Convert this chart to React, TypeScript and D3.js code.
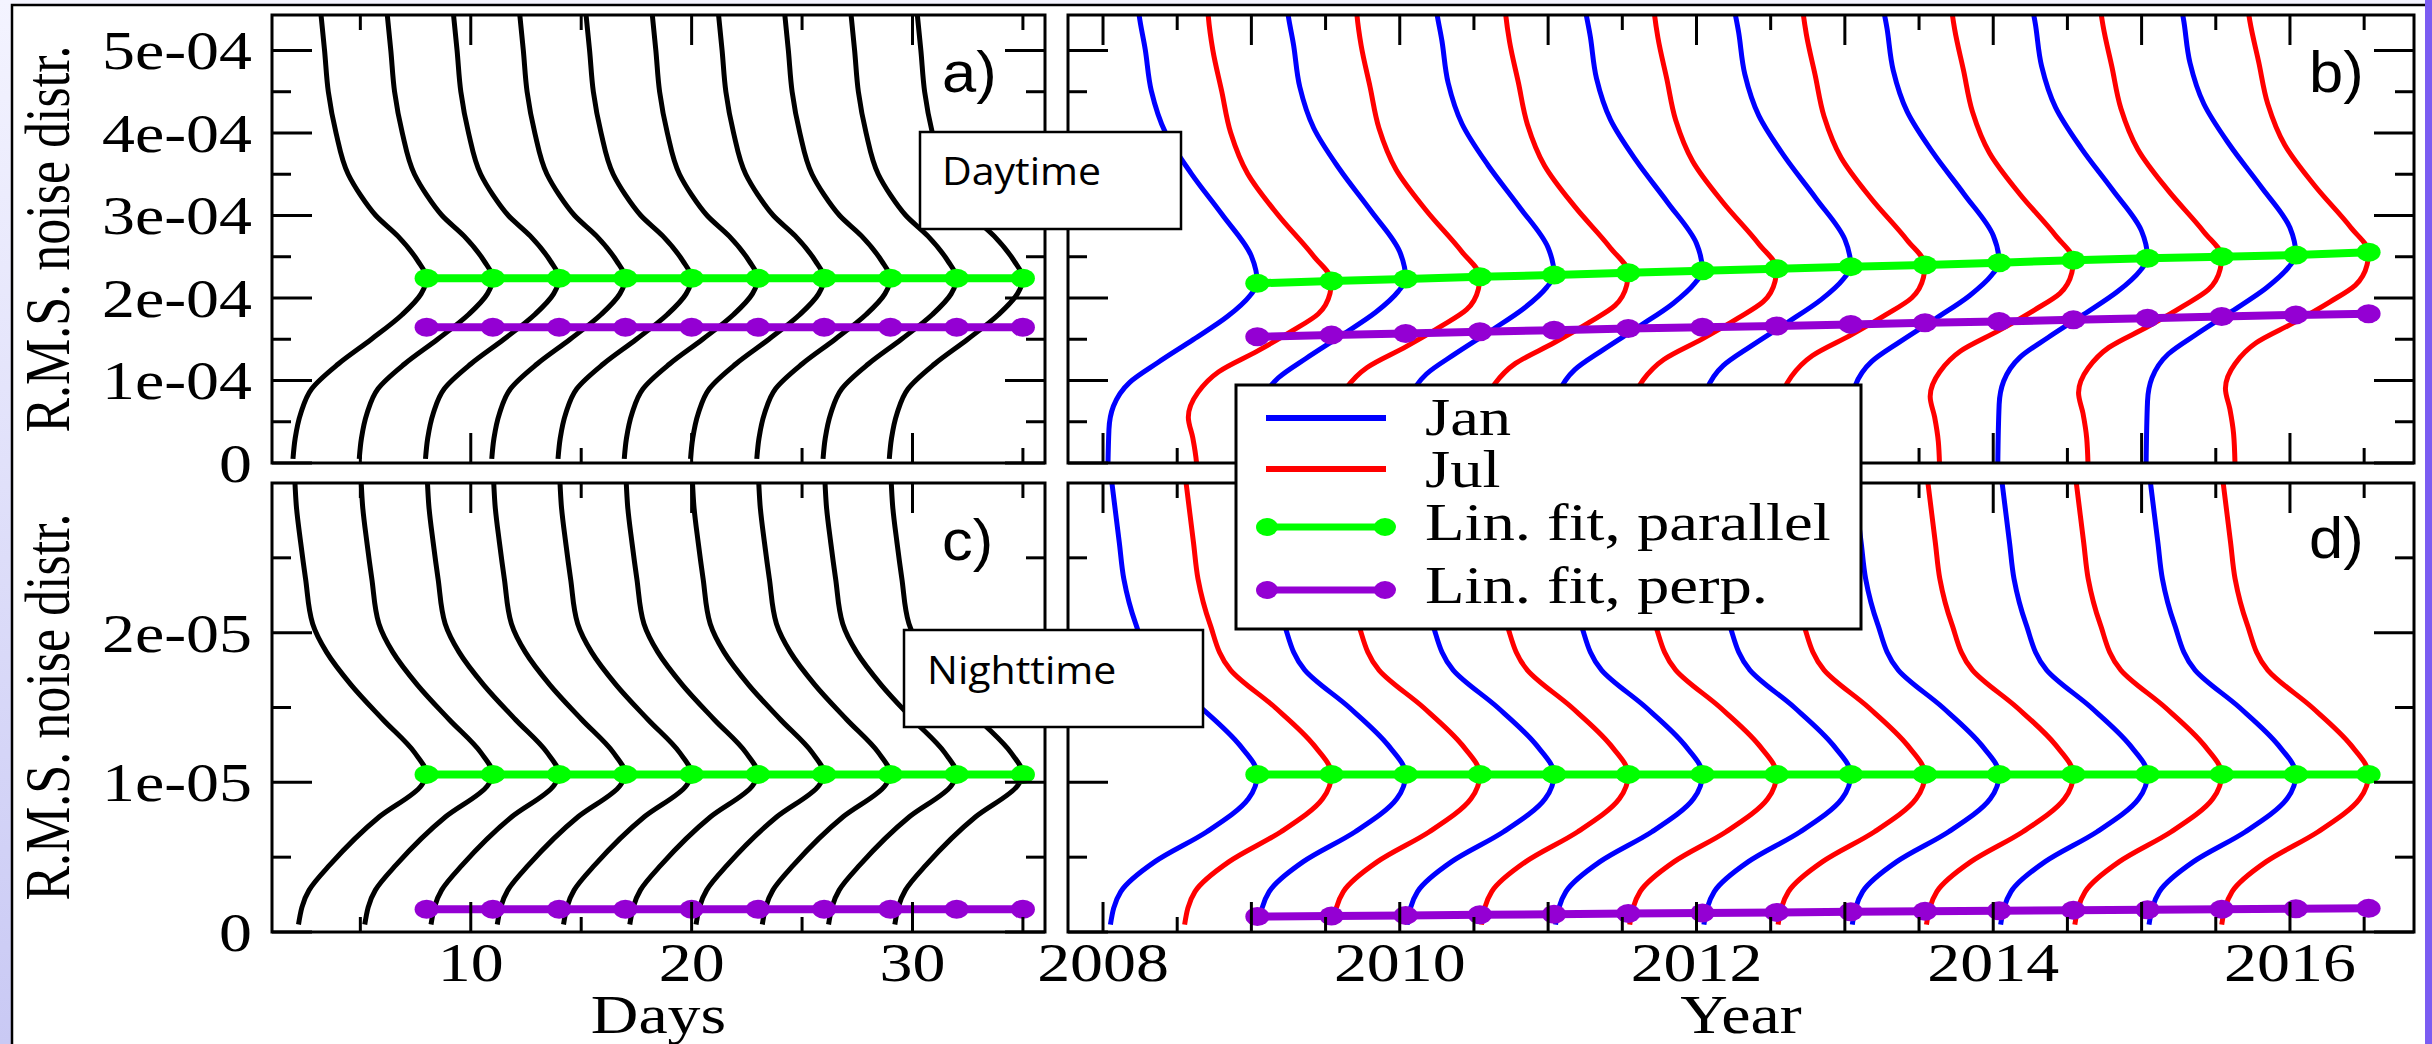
import React from 'react';
import * as d3 from 'd3';

const W = 2432;
const H = 1044;

// ---- values ----

// panels a) and c): one distribution every 3 days
const days = [8, 11, 14, 17, 20, 23, 26, 29, 32, 35];
const dayParallelA = [2.24e-4, 2.24e-4, 2.24e-4, 2.24e-4, 2.24e-4, 2.24e-4, 2.24e-4, 2.24e-4, 2.24e-4, 2.24e-4];
const dayPerpA = [1.645e-4, 1.645e-4, 1.645e-4, 1.645e-4, 1.645e-4, 1.645e-4, 1.645e-4, 1.645e-4, 1.645e-4, 1.645e-4];
const nightParallelC = [1.053e-5, 1.053e-5, 1.053e-5, 1.053e-5, 1.053e-5, 1.053e-5, 1.053e-5, 1.053e-5, 1.053e-5, 1.053e-5];
const nightPerpC = [1.52e-6, 1.52e-6, 1.52e-6, 1.52e-6, 1.52e-6, 1.52e-6, 1.52e-6, 1.52e-6, 1.52e-6, 1.52e-6];

// panels b) and d): January / July distributions
const years = [2009.04, 2009.54, 2010.04, 2010.54, 2011.04, 2011.54, 2012.04, 2012.54, 2013.04, 2013.54, 2014.04, 2014.54, 2015.04, 2015.54, 2016.04, 2016.53];
const months = ['Jan', 'Jul', 'Jan', 'Jul', 'Jan', 'Jul', 'Jan', 'Jul', 'Jan', 'Jul', 'Jan', 'Jul', 'Jan', 'Jul', 'Jan', 'Jul'];
const dayParallelB = [2.178e-4, 2.206e-4, 2.23e-4, 2.258e-4, 2.279e-4, 2.307e-4, 2.331e-4, 2.355e-4, 2.38e-4, 2.4e-4, 2.428e-4, 2.457e-4, 2.481e-4, 2.501e-4, 2.521e-4, 2.554e-4];
const dayPerpB = [1.53e-4, 1.55e-4, 1.57e-4, 1.59e-4, 1.61e-4, 1.63e-4, 1.645e-4, 1.66e-4, 1.68e-4, 1.7e-4, 1.715e-4, 1.735e-4, 1.755e-4, 1.775e-4, 1.795e-4, 1.81e-4];
const nightParallelD = [1.053e-5, 1.053e-5, 1.053e-5, 1.053e-5, 1.053e-5, 1.053e-5, 1.053e-5, 1.053e-5, 1.053e-5, 1.053e-5, 1.053e-5, 1.053e-5, 1.053e-5, 1.053e-5, 1.053e-5, 1.053e-5];
const nightPerpD = [1.03e-6, 1.07e-6, 1.11e-6, 1.15e-6, 1.19e-6, 1.23e-6, 1.27e-6, 1.31e-6, 1.35e-6, 1.39e-6, 1.42e-6, 1.46e-6, 1.49e-6, 1.52e-6, 1.55e-6, 1.58e-6];

// distribution profiles: noise value vs. offset (days / years) from the peak
const dayProfileY = [0.05e-4, 0.3e-4, 0.6e-4, 0.9e-4, 1.2e-4, 1.5e-4, 1.8e-4, 2.05e-4, 2.24e-4, 2.45e-4, 2.75e-4, 3.0e-4, 3.25e-4, 3.5e-4, 4.0e-4, 4.5e-4, 5.0e-4, 5.43e-4];
const dayProfileDx = [-6.05, -5.95, -5.7, -5.2, -4.0, -2.5, -1.1, -0.25, 0, -0.4, -1.3, -2.3, -3.0, -3.55, -4.1, -4.45, -4.62, -4.78];
const nightProfileY = [0.05e-5, 0.28e-5, 0.45e-5, 0.77e-5, 0.98e-5, 1.053e-5, 1.2e-5, 1.42e-5, 1.65e-5, 1.87e-5, 2.06e-5, 2.36e-5, 2.6e-5, 2.85e-5, 3.0e-5];
const nightProfileDx = [-5.8, -5.32, -4.37, -2.14, -0.23, 0, -0.55, -1.98, -3.41, -4.53, -5.16, -5.48, -5.7, -5.9, -5.96];
// panel b) profiles relative to the peak value
const janDayDy = [-2.6e-4, -1.77e-4, -1.49e-4, -1.2e-4, -0.96e-4, -0.68e-4, -0.4e-4, -0.15e-4, 0, 0.33e-4, 0.83e-4, 1.33e-4, 1.83e-4, 2.33e-4, 2.83e-4, 3.3e-4, 3.6e-4];
const janDayDx = [-1.01, -1.0, -0.97, -0.86, -0.67, -0.43, -0.2, -0.05, 0, -0.04, -0.236, -0.445, -0.62, -0.714, -0.755, -0.8, -0.81];
const julDayDy = [-2.6e-4, -2.2e-4, -1.9e-4, -1.65e-4, -1.35e-4, -1.1e-4, -0.85e-4, -0.6e-4, -0.4e-4, -0.15e-4, 0, 0.3e-4, 0.8e-4, 1.3e-4, 1.8e-4, 2.3e-4, 2.8e-4, 3.2e-4, 3.6e-4];
const julDayDx = [-0.9, -0.91, -0.935, -0.965, -0.9, -0.76, -0.5, -0.26, -0.09, -0.01, 0, -0.12, -0.36, -0.565, -0.68, -0.74, -0.8, -0.83, -0.84];
const nightYearY = [0.05e-5, 0.27e-5, 0.47e-5, 0.67e-5, 0.89e-5, 1.053e-5, 1.25e-5, 1.5e-5, 1.75e-5, 2.06e-5, 2.36e-5, 2.6e-5, 3.0e-5];
const nightYearDx = [-0.99, -0.92, -0.69, -0.34, -0.06, 0, -0.12, -0.38, -0.68, -0.82, -0.9, -0.93, -0.98];

// axes
const dayXMajor = [10, 20, 30];
const dayXMinor = [5, 15, 25, 35];
const dayXLabels = ['10', '20', '30'];
const yearXMajor = [2008, 2009, 2010, 2011, 2012, 2013, 2014, 2015, 2016];
const yearXMinor = [2008.5, 2009.5, 2010.5, 2011.5, 2012.5, 2013.5, 2014.5, 2015.5, 2016.5];
const yearXLabelAt = [2008, 2010, 2012, 2014, 2016];
const yearXLabels = ['2008', '2010', '2012', '2014', '2016'];
const dayYMajor = [0, 1e-4, 2e-4, 3e-4, 4e-4, 5e-4];
const dayYMinor = [0.5e-4, 1.5e-4, 2.5e-4, 3.5e-4, 4.5e-4];
const dayYLabels = ['0', '1e-04', '2e-04', '3e-04', '4e-04', '5e-04'];
const nightYMajor = [0, 1e-5, 2e-5];
const nightYMinor = [0.5e-5, 1.5e-5, 2.5e-5];
const nightYLabels = ['0', '1e-05', '2e-05'];

const BLUE = '#0000ff';
const RED = '#ff0000';
const GREEN = '#00ff00';
const PURPLE = '#9400d3';
const SERIF = '"Liberation Serif", "Times New Roman", serif';
const SANS = '"Liberation Sans", Arial, sans-serif';
const SX = 1.22; // the figure is stretched horizontally

type Lin = d3.ScaleLinear<number, number>;

const xDay = d3.scaleLinear().domain([1, 36]).range([272, 1045]);
const xYear = d3.scaleLinear().domain([2007.764, 2016.836]).range([1068, 2414]);
const yDay = d3.scaleLinear().domain([0, 5.43e-4]).range([463, 15]);
const yNight = d3.scaleLinear().domain([0, 3e-5]).range([932, 483]);

function Frame({ x, y, xMajor, xMinor, yMajor, yMinor }: { x: Lin; y: Lin; xMajor: number[]; xMinor: number[]; yMajor: number[]; yMinor: number[] }) {
  const [x0, x1] = x.range();
  const [yb, yt] = y.range();
  const segs: number[][] = [];
  xMajor.forEach((v) => {
    segs.push([x(v), yb, x(v), yb - 30]);
    segs.push([x(v), yt, x(v), yt + 30]);
  });
  xMinor.forEach((v) => {
    segs.push([x(v), yb, x(v), yb - 15]);
    segs.push([x(v), yt, x(v), yt + 15]);
  });
  yMajor.forEach((v) => {
    segs.push([x0, y(v), x0 + 40, y(v)]);
    segs.push([x1, y(v), x1 - 40, y(v)]);
  });
  yMinor.forEach((v) => {
    segs.push([x0, y(v), x0 + 19, y(v)]);
    segs.push([x1, y(v), x1 - 19, y(v)]);
  });
  return (
    <g stroke="#000" strokeWidth={3} fill="none">
      {segs.map((s, i) => (
        <line key={i} x1={s[0]} y1={s[1]} x2={s[2]} y2={s[3]} />
      ))}
      <rect x={x0} y={yt} width={x1 - x0} height={yb - yt} />
    </g>
  );
}

function curvePath(x: Lin, y: Lin, pts: [number, number][]) {
  const sorted = pts.slice().sort((a, b) => b[1] - a[1]);
  return d3
    .line<[number, number]>()
    .x((d) => x(d[0]))
    .y((d) => y(d[1]))
    .curve(d3.curveMonotoneY)(sorted) as string;
}

function Fit({ x, y, xs, vals, color }: { x: Lin; y: Lin; xs: number[]; vals: number[]; color: string }) {
  const pts = xs.map((v, i) => [v, vals[i]] as [number, number]);
  const path = d3
    .line<[number, number]>()
    .x((d) => x(d[0]))
    .y((d) => y(d[1]))(pts) as string;
  return (
    <g>
      <path d={path} fill="none" stroke={color} strokeWidth={8} />
      {pts.map((p, i) => (
        <ellipse key={i} cx={x(p[0])} cy={y(p[1])} rx={12} ry={9.5} fill={color} />
      ))}
    </g>
  );
}

function SText({ x, y, children, anchor = 'middle', size = 54, rotate = 0, family = SERIF, sx = SX }: any) {
  return (
    <text
      transform={`translate(${x},${y}) scale(${sx},1)${rotate ? ` rotate(${rotate})` : ''}`}
      textAnchor={anchor}
      fontFamily={family}
      fontSize={size}
      fill="#000"
    >
      {children}
    </text>
  );
}

function Clip({ id, x, y }: { id: string; x: Lin; y: Lin }) {
  const [x0, x1] = x.range();
  const [yb, yt] = y.range();
  return (
    <clipPath id={id}>
      <rect x={x0} y={yt} width={x1 - x0} height={yb - yt} />
    </clipPath>
  );
}

export default function App() {
  const curvesA = days.map((d) => curvePath(xDay, yDay, dayProfileY.map((v, i) => [d + dayProfileDx[i], v])));
  const curvesC = days.map((d) => curvePath(xDay, yNight, nightProfileY.map((v, i) => [d + nightProfileDx[i], v])));
  const curvesB = years.map((yr, k) => {
    const dy = months[k] === 'Jan' ? janDayDy : julDayDy;
    const dx = months[k] === 'Jan' ? janDayDx : julDayDx;
    return curvePath(xYear, yDay, dy.map((v, i) => [yr + dx[i], dayParallelB[k] + v]));
  });
  const curvesD = years.map((yr) => curvePath(xYear, yNight, nightYearY.map((v, i) => [yr + nightYearDx[i], v])));
  const colorOf = (m: string) => (m === 'Jan' ? BLUE : RED);

  return (
    <svg width={W} height={H} style={{ position: 'absolute', left: 0, top: 0 }}>
      <defs>
        <linearGradient id="bg" x1="0" y1="0" x2="0" y2="1">
          <stop offset="0" stopColor="#f4f4ff" />
          <stop offset="1" stopColor="#c9c9f4" />
        </linearGradient>
        <Clip id="clipA" x={xDay} y={yDay} />
        <Clip id="clipB" x={xYear} y={yDay} />
        <Clip id="clipC" x={xDay} y={yNight} />
        <Clip id="clipD" x={xYear} y={yNight} />
      </defs>
      <rect width={W} height={H} fill="url(#bg)" />
      <rect x={2425} y={0} width={7} height={H} fill="#7b5cf2" />
      <rect x={12} y={5} width={2413} height={H - 5} fill="#fff" />
      <path d={`M12,${H} V5 H2425`} fill="none" stroke="#000" strokeWidth={2.5} />

      {/* curves */}
      <g fill="none" strokeWidth={5}>
        <g clipPath="url(#clipA)" stroke="#000">
          {curvesA.map((d, i) => <path key={i} d={d} />)}
        </g>
        <g clipPath="url(#clipC)" stroke="#000">
          {curvesC.map((d, i) => <path key={i} d={d} />)}
        </g>
        <g clipPath="url(#clipB)">
          {curvesB.map((d, i) => <path key={i} d={d} stroke={colorOf(months[i])} />)}
        </g>
        <g clipPath="url(#clipD)">
          {curvesD.map((d, i) => <path key={i} d={d} stroke={colorOf(months[i])} />)}
        </g>
      </g>

      {/* linear fits */}
      <Fit x={xDay} y={yDay} xs={days} vals={dayParallelA} color={GREEN} />
      <Fit x={xDay} y={yDay} xs={days} vals={dayPerpA} color={PURPLE} />
      <Fit x={xDay} y={yNight} xs={days} vals={nightParallelC} color={GREEN} />
      <Fit x={xDay} y={yNight} xs={days} vals={nightPerpC} color={PURPLE} />
      <Fit x={xYear} y={yDay} xs={years} vals={dayParallelB} color={GREEN} />
      <Fit x={xYear} y={yDay} xs={years} vals={dayPerpB} color={PURPLE} />
      <Fit x={xYear} y={yNight} xs={years} vals={nightParallelD} color={GREEN} />
      <Fit x={xYear} y={yNight} xs={years} vals={nightPerpD} color={PURPLE} />

      {/* frames and ticks */}
      <Frame x={xDay} y={yDay} xMajor={dayXMajor} xMinor={dayXMinor} yMajor={dayYMajor} yMinor={dayYMinor} />
      <Frame x={xYear} y={yDay} xMajor={yearXMajor} xMinor={yearXMinor} yMajor={dayYMajor} yMinor={dayYMinor} />
      <Frame x={xDay} y={yNight} xMajor={dayXMajor} xMinor={dayXMinor} yMajor={nightYMajor} yMinor={nightYMinor} />
      <Frame x={xYear} y={yNight} xMajor={yearXMajor} xMinor={yearXMinor} yMajor={nightYMajor} yMinor={nightYMinor} />

      {/* tick labels */}
      {dayYMajor.map((v, i) => (
        <SText key={'ya' + i} x={252} y={yDay(v) + 19} anchor="end">{dayYLabels[i]}</SText>
      ))}
      {nightYMajor.map((v, i) => (
        <SText key={'yc' + i} x={252} y={yNight(v) + 19} anchor="end">{nightYLabels[i]}</SText>
      ))}
      {dayXMajor.map((v, i) => (
        <SText key={'xc' + i} x={xDay(v)} y={981}>{dayXLabels[i]}</SText>
      ))}
      {yearXLabelAt.map((v, i) => (
        <SText key={'xd' + i} x={xYear(v)} y={981}>{yearXLabels[i]}</SText>
      ))}

      {/* axis titles */}
      <SText x={xDay(18.5)} y={1033}>Days</SText>
      <SText x={(1068 + 2414) / 2} y={1033}>Year</SText>
      <SText x={69} y={239} size={52} rotate={-90}>R.M.S. noise distr.</SText>
      <SText x={69} y={707} size={52} rotate={-90}>R.M.S. noise distr.</SText>

      {/* panel tags */}
      <SText x={942} y={92} anchor="start" size={58} sx={1.06} family={SANS}>a)</SText>
      <SText x={2309} y={92} anchor="start" size={58} sx={1.06} family={SANS}>b)</SText>
      <SText x={942} y={560} anchor="start" size={58} sx={1.06} family={SANS}>c)</SText>
      <SText x={2309} y={558} anchor="start" size={58} sx={1.06} family={SANS}>d)</SText>

      {/* Daytime / Nighttime boxes */}
      <rect x={920} y={132} width={261} height={97} fill="#fff" stroke="#000" strokeWidth={2.5} />
      <SText x={942} y={185} anchor="start" size={38} sx={1.08} family='"Open Sans", "Noto Sans", sans-serif'>Daytime</SText>
      <rect x={904} y={630} width={299} height={97} fill="#fff" stroke="#000" strokeWidth={2.5} />
      <SText x={927} y={684} anchor="start" size={38} sx={1.08} family='"Open Sans", "Noto Sans", sans-serif'>Nighttime</SText>

      {/* legend */}
      <rect x={1236} y={385} width={625} height={244} fill="#fff" stroke="#000" strokeWidth={3} />
      <line x1={1266} x2={1386} y1={418} y2={418} stroke={BLUE} strokeWidth={6} />
      <line x1={1266} x2={1386} y1={469} y2={469} stroke={RED} strokeWidth={6} />
      <line x1={1267} x2={1385} y1={527} y2={527} stroke={GREEN} strokeWidth={7} />
      <ellipse cx={1267} cy={527} rx={11} ry={9} fill={GREEN} />
      <ellipse cx={1385} cy={527} rx={11} ry={9} fill={GREEN} />
      <line x1={1267} x2={1385} y1={590} y2={590} stroke={PURPLE} strokeWidth={7} />
      <ellipse cx={1267} cy={590} rx={11} ry={9} fill={PURPLE} />
      <ellipse cx={1385} cy={590} rx={11} ry={9} fill={PURPLE} />
      <SText x={1425} y={435} anchor="start" size={53}>Jan</SText>
      <SText x={1425} y={487} anchor="start" size={53}>Jul</SText>
      <SText x={1425} y={540} anchor="start" size={53}>Lin. fit, parallel</SText>
      <SText x={1425} y={603} anchor="start" size={53}>Lin. fit, perp.</SText>
    </svg>
  );
}
